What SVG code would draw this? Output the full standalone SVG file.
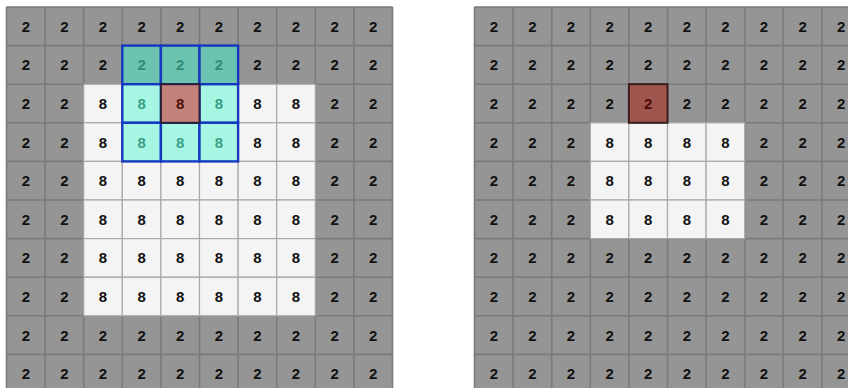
<svg xmlns="http://www.w3.org/2000/svg" width="848" height="388" viewBox="0 0 848 388">
<style>
.bg{fill:#959595}
.gl{fill:none;stroke:#7b7b7b;stroke-width:1.6}
.w{fill:#f4f4f4;stroke:#a9a9a9;stroke-width:1.2}
.teal{fill:#6cc4b0;stroke:#1538c0;stroke-width:2.4}
.cyan{fill:#a6f6e3;stroke:#1538c0;stroke-width:2.4}
.redl{fill:#c4837a;stroke:#2a1e3a;stroke-width:2}
.redr{fill:#a0554c;stroke:#3a1a1a;stroke-width:2}
text{font-family:"Liberation Sans",Arial,sans-serif;font-weight:bold;font-size:15px;text-anchor:middle;fill:#111}
.tt{fill:#2f8c76}
.tc{fill:#3c9e87}
.tr{fill:#4a0c0c}
</style>
<rect width="848" height="388" fill="#ffffff"/>
<g id="left-grid" transform="translate(0,0)">
<rect class="bg" x="6.5" y="7" width="386" height="386"/>
<path class="gl" d="M6.5 7V393M45.1 7V393M83.7 7V393M122.3 7V393M160.9 7V393M199.5 7V393M238.1 7V393M276.7 7V393M315.3 7V393M353.9 7V393M392.5 7V393M6.5 7H392.5M6.5 45.6H392.5M6.5 84.2H392.5M6.5 122.8H392.5M6.5 161.4H392.5M6.5 200H392.5M6.5 238.6H392.5M6.5 277.2H392.5M6.5 315.8H392.5M6.5 354.4H392.5"/>
<g id="left-white">
<rect class="w" x="83.7" y="84.2" width="38.6" height="38.6"/><rect class="w" x="122.3" y="84.2" width="38.6" height="38.6"/><rect class="w" x="160.9" y="84.2" width="38.6" height="38.6"/><rect class="w" x="199.5" y="84.2" width="38.6" height="38.6"/><rect class="w" x="238.1" y="84.2" width="38.6" height="38.6"/><rect class="w" x="276.7" y="84.2" width="38.6" height="38.6"/>
<rect class="w" x="83.7" y="122.8" width="38.6" height="38.6"/><rect class="w" x="122.3" y="122.8" width="38.6" height="38.6"/><rect class="w" x="160.9" y="122.8" width="38.6" height="38.6"/><rect class="w" x="199.5" y="122.8" width="38.6" height="38.6"/><rect class="w" x="238.1" y="122.8" width="38.6" height="38.6"/><rect class="w" x="276.7" y="122.8" width="38.6" height="38.6"/>
<rect class="w" x="83.7" y="161.4" width="38.6" height="38.6"/><rect class="w" x="122.3" y="161.4" width="38.6" height="38.6"/><rect class="w" x="160.9" y="161.4" width="38.6" height="38.6"/><rect class="w" x="199.5" y="161.4" width="38.6" height="38.6"/><rect class="w" x="238.1" y="161.4" width="38.6" height="38.6"/><rect class="w" x="276.7" y="161.4" width="38.6" height="38.6"/>
<rect class="w" x="83.7" y="200" width="38.6" height="38.6"/><rect class="w" x="122.3" y="200" width="38.6" height="38.6"/><rect class="w" x="160.9" y="200" width="38.6" height="38.6"/><rect class="w" x="199.5" y="200" width="38.6" height="38.6"/><rect class="w" x="238.1" y="200" width="38.6" height="38.6"/><rect class="w" x="276.7" y="200" width="38.6" height="38.6"/>
<rect class="w" x="83.7" y="238.6" width="38.6" height="38.6"/><rect class="w" x="122.3" y="238.6" width="38.6" height="38.6"/><rect class="w" x="160.9" y="238.6" width="38.6" height="38.6"/><rect class="w" x="199.5" y="238.6" width="38.6" height="38.6"/><rect class="w" x="238.1" y="238.6" width="38.6" height="38.6"/><rect class="w" x="276.7" y="238.6" width="38.6" height="38.6"/>
<rect class="w" x="83.7" y="277.2" width="38.6" height="38.6"/><rect class="w" x="122.3" y="277.2" width="38.6" height="38.6"/><rect class="w" x="160.9" y="277.2" width="38.6" height="38.6"/><rect class="w" x="199.5" y="277.2" width="38.6" height="38.6"/><rect class="w" x="238.1" y="277.2" width="38.6" height="38.6"/><rect class="w" x="276.7" y="277.2" width="38.6" height="38.6"/>
</g>
<g id="left-window">
<rect class="teal" x="122.3" y="45.6" width="38.6" height="38.6"/><rect class="teal" x="160.9" y="45.6" width="38.6" height="38.6"/><rect class="teal" x="199.5" y="45.6" width="38.6" height="38.6"/>
<rect class="cyan" x="122.3" y="84.2" width="38.6" height="38.6"/><rect class="cyan" x="199.5" y="84.2" width="38.6" height="38.6"/>
<rect class="cyan" x="122.3" y="122.8" width="38.6" height="38.6"/><rect class="cyan" x="160.9" y="122.8" width="38.6" height="38.6"/><rect class="cyan" x="199.5" y="122.8" width="38.6" height="38.6"/>
<rect class="redl" x="160.9" y="84.2" width="38.6" height="38.6"/>
</g>
<g id="left-values" transform="translate(0,0.6)">
<text x="25.8" y="31.3">2</text><text x="64.4" y="31.3">2</text><text x="103" y="31.3">2</text><text x="141.6" y="31.3">2</text><text x="180.2" y="31.3">2</text><text x="218.8" y="31.3">2</text><text x="257.4" y="31.3">2</text><text x="296" y="31.3">2</text><text x="334.6" y="31.3">2</text><text x="373.2" y="31.3">2</text>
<text x="25.8" y="69.9">2</text><text x="64.4" y="69.9">2</text><text x="103" y="69.9">2</text><text class="tt" x="141.6" y="69.9">2</text><text class="tt" x="180.2" y="69.9">2</text><text class="tt" x="218.8" y="69.9">2</text><text x="257.4" y="69.9">2</text><text x="296" y="69.9">2</text><text x="334.6" y="69.9">2</text><text x="373.2" y="69.9">2</text>
<text x="25.8" y="108.5">2</text><text x="64.4" y="108.5">2</text><text x="103" y="108.5">8</text><text class="tc" x="141.6" y="108.5">8</text><text class="tr" x="180.2" y="108.5">8</text><text class="tc" x="218.8" y="108.5">8</text><text x="257.4" y="108.5">8</text><text x="296" y="108.5">8</text><text x="334.6" y="108.5">2</text><text x="373.2" y="108.5">2</text>
<text x="25.8" y="147.1">2</text><text x="64.4" y="147.1">2</text><text x="103" y="147.1">8</text><text class="tc" x="141.6" y="147.1">8</text><text class="tc" x="180.2" y="147.1">8</text><text class="tc" x="218.8" y="147.1">8</text><text x="257.4" y="147.1">8</text><text x="296" y="147.1">8</text><text x="334.6" y="147.1">2</text><text x="373.2" y="147.1">2</text>
<text x="25.8" y="185.7">2</text><text x="64.4" y="185.7">2</text><text x="103" y="185.7">8</text><text x="141.6" y="185.7">8</text><text x="180.2" y="185.7">8</text><text x="218.8" y="185.7">8</text><text x="257.4" y="185.7">8</text><text x="296" y="185.7">8</text><text x="334.6" y="185.7">2</text><text x="373.2" y="185.7">2</text>
<text x="25.8" y="224.3">2</text><text x="64.4" y="224.3">2</text><text x="103" y="224.3">8</text><text x="141.6" y="224.3">8</text><text x="180.2" y="224.3">8</text><text x="218.8" y="224.3">8</text><text x="257.4" y="224.3">8</text><text x="296" y="224.3">8</text><text x="334.6" y="224.3">2</text><text x="373.2" y="224.3">2</text>
<text x="25.8" y="262.9">2</text><text x="64.4" y="262.9">2</text><text x="103" y="262.9">8</text><text x="141.6" y="262.9">8</text><text x="180.2" y="262.9">8</text><text x="218.8" y="262.9">8</text><text x="257.4" y="262.9">8</text><text x="296" y="262.9">8</text><text x="334.6" y="262.9">2</text><text x="373.2" y="262.9">2</text>
<text x="25.8" y="301.5">2</text><text x="64.4" y="301.5">2</text><text x="103" y="301.5">8</text><text x="141.6" y="301.5">8</text><text x="180.2" y="301.5">8</text><text x="218.8" y="301.5">8</text><text x="257.4" y="301.5">8</text><text x="296" y="301.5">8</text><text x="334.6" y="301.5">2</text><text x="373.2" y="301.5">2</text>
<text x="25.8" y="340.1">2</text><text x="64.4" y="340.1">2</text><text x="103" y="340.1">2</text><text x="141.6" y="340.1">2</text><text x="180.2" y="340.1">2</text><text x="218.8" y="340.1">2</text><text x="257.4" y="340.1">2</text><text x="296" y="340.1">2</text><text x="334.6" y="340.1">2</text><text x="373.2" y="340.1">2</text>
<text x="25.8" y="378.7">2</text><text x="64.4" y="378.7">2</text><text x="103" y="378.7">2</text><text x="141.6" y="378.7">2</text><text x="180.2" y="378.7">2</text><text x="218.8" y="378.7">2</text><text x="257.4" y="378.7">2</text><text x="296" y="378.7">2</text><text x="334.6" y="378.7">2</text><text x="373.2" y="378.7">2</text>
</g>
</g>
<g id="right-grid">
<rect class="bg" x="474.5" y="7" width="386" height="386"/>
<path class="gl" d="M474.5 7V393M513.1 7V393M551.7 7V393M590.3 7V393M628.9 7V393M667.5 7V393M706.1 7V393M744.7 7V393M783.3 7V393M821.9 7V393M474.5 7H860M474.5 45.6H860M474.5 84.2H860M474.5 122.8H860M474.5 161.4H860M474.5 200H860M474.5 238.6H860M474.5 277.2H860M474.5 315.8H860M474.5 354.4H860"/>
<g id="right-white">
<rect class="w" x="590.3" y="122.8" width="38.6" height="38.6"/><rect class="w" x="628.9" y="122.8" width="38.6" height="38.6"/><rect class="w" x="667.5" y="122.8" width="38.6" height="38.6"/><rect class="w" x="706.1" y="122.8" width="38.6" height="38.6"/>
<rect class="w" x="590.3" y="161.4" width="38.6" height="38.6"/><rect class="w" x="628.9" y="161.4" width="38.6" height="38.6"/><rect class="w" x="667.5" y="161.4" width="38.6" height="38.6"/><rect class="w" x="706.1" y="161.4" width="38.6" height="38.6"/>
<rect class="w" x="590.3" y="200" width="38.6" height="38.6"/><rect class="w" x="628.9" y="200" width="38.6" height="38.6"/><rect class="w" x="667.5" y="200" width="38.6" height="38.6"/><rect class="w" x="706.1" y="200" width="38.6" height="38.6"/>
</g>
<g id="right-marked">
<rect class="redr" x="628.9" y="84.2" width="38.6" height="38.6"/>
</g>
<g id="right-values" transform="translate(0,0.6)">
<text x="493.8" y="31.3">2</text><text x="532.4" y="31.3">2</text><text x="571" y="31.3">2</text><text x="609.6" y="31.3">2</text><text x="648.2" y="31.3">2</text><text x="686.8" y="31.3">2</text><text x="725.4" y="31.3">2</text><text x="764" y="31.3">2</text><text x="802.6" y="31.3">2</text><text x="841.2" y="31.3">2</text>
<text x="493.8" y="69.9">2</text><text x="532.4" y="69.9">2</text><text x="571" y="69.9">2</text><text x="609.6" y="69.9">2</text><text x="648.2" y="69.9">2</text><text x="686.8" y="69.9">2</text><text x="725.4" y="69.9">2</text><text x="764" y="69.9">2</text><text x="802.6" y="69.9">2</text><text x="841.2" y="69.9">2</text>
<text x="493.8" y="108.5">2</text><text x="532.4" y="108.5">2</text><text x="571" y="108.5">2</text><text x="609.6" y="108.5">2</text><text class="tr" x="648.2" y="108.5">2</text><text x="686.8" y="108.5">2</text><text x="725.4" y="108.5">2</text><text x="764" y="108.5">2</text><text x="802.6" y="108.5">2</text><text x="841.2" y="108.5">2</text>
<text x="493.8" y="147.1">2</text><text x="532.4" y="147.1">2</text><text x="571" y="147.1">2</text><text x="609.6" y="147.1">8</text><text x="648.2" y="147.1">8</text><text x="686.8" y="147.1">8</text><text x="725.4" y="147.1">8</text><text x="764" y="147.1">2</text><text x="802.6" y="147.1">2</text><text x="841.2" y="147.1">2</text>
<text x="493.8" y="185.7">2</text><text x="532.4" y="185.7">2</text><text x="571" y="185.7">2</text><text x="609.6" y="185.7">8</text><text x="648.2" y="185.7">8</text><text x="686.8" y="185.7">8</text><text x="725.4" y="185.7">8</text><text x="764" y="185.7">2</text><text x="802.6" y="185.7">2</text><text x="841.2" y="185.7">2</text>
<text x="493.8" y="224.3">2</text><text x="532.4" y="224.3">2</text><text x="571" y="224.3">2</text><text x="609.6" y="224.3">8</text><text x="648.2" y="224.3">8</text><text x="686.8" y="224.3">8</text><text x="725.4" y="224.3">8</text><text x="764" y="224.3">2</text><text x="802.6" y="224.3">2</text><text x="841.2" y="224.3">2</text>
<text x="493.8" y="262.9">2</text><text x="532.4" y="262.9">2</text><text x="571" y="262.9">2</text><text x="609.6" y="262.9">2</text><text x="648.2" y="262.9">2</text><text x="686.8" y="262.9">2</text><text x="725.4" y="262.9">2</text><text x="764" y="262.9">2</text><text x="802.6" y="262.9">2</text><text x="841.2" y="262.9">2</text>
<text x="493.8" y="301.5">2</text><text x="532.4" y="301.5">2</text><text x="571" y="301.5">2</text><text x="609.6" y="301.5">2</text><text x="648.2" y="301.5">2</text><text x="686.8" y="301.5">2</text><text x="725.4" y="301.5">2</text><text x="764" y="301.5">2</text><text x="802.6" y="301.5">2</text><text x="841.2" y="301.5">2</text>
<text x="493.8" y="340.1">2</text><text x="532.4" y="340.1">2</text><text x="571" y="340.1">2</text><text x="609.6" y="340.1">2</text><text x="648.2" y="340.1">2</text><text x="686.8" y="340.1">2</text><text x="725.4" y="340.1">2</text><text x="764" y="340.1">2</text><text x="802.6" y="340.1">2</text><text x="841.2" y="340.1">2</text>
<text x="493.8" y="378.7">2</text><text x="532.4" y="378.7">2</text><text x="571" y="378.7">2</text><text x="609.6" y="378.7">2</text><text x="648.2" y="378.7">2</text><text x="686.8" y="378.7">2</text><text x="725.4" y="378.7">2</text><text x="764" y="378.7">2</text><text x="802.6" y="378.7">2</text><text x="841.2" y="378.7">2</text>
</g>
</g>
</svg>
